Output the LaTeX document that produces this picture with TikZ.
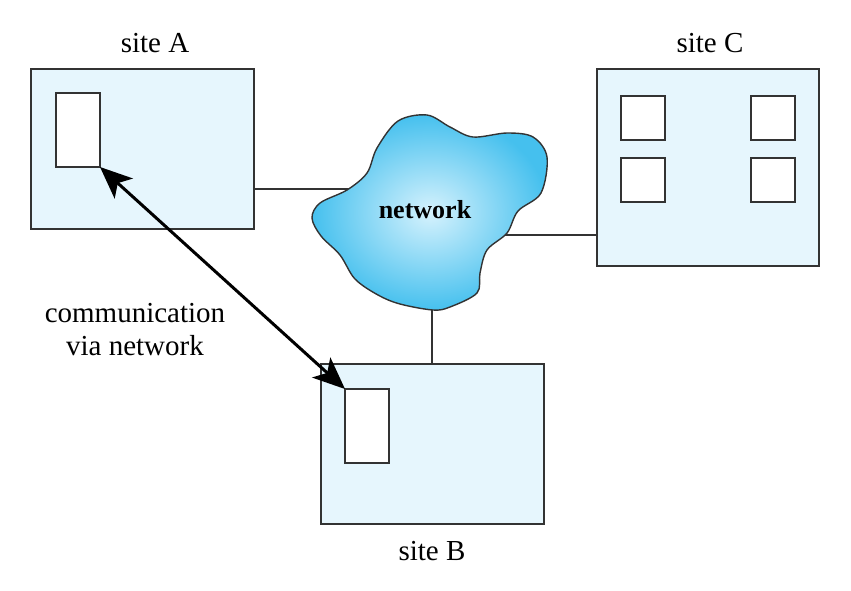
\documentclass[tikz,border=0pt]{standalone}
\usepackage{fontspec}
\setmainfont{Liberation Serif}
\usetikzlibrary{arrows.meta}
\definecolor{sitefill}{HTML}{E6F6FD}
\definecolor{linegray}{HTML}{333333}
\definecolor{cloudin}{HTML}{D6F2FD}
\definecolor{cloudout}{HTML}{45C0EE}
\tikzset{
  sitebox/.style={draw=linegray, line width=1.4pt, fill=sitefill},
  procbox/.style={draw=linegray, line width=1.4pt, fill=white},
  link/.style={draw=linegray, line width=1.4pt},
  lbl/.style={font=\fontsize{29}{33}\selectfont, inner sep=0pt},
  comm/.style={line width=3pt, black, {Stealth[length=32pt,width=27pt,inset=8pt]}-{Stealth[length=32pt,width=27pt,inset=8pt]}}
}
\begin{document}
\begin{tikzpicture}[x=1pt,y=-1pt]
\useasboundingbox (0,0) rectangle (851,590);
% sites
\draw[sitebox] (31,69) rectangle (254,229);
\coordinate (Aright) at (254,189);
\draw[procbox] (56,93) rectangle (100,167);
\coordinate (pA) at (100,167);
\node[lbl] (labA) at (155,43) {site A};

\draw[sitebox] (597,69) rectangle (819,266);
\coordinate (Cleft) at (597,235);
\draw[procbox] (621,96) rectangle (665,140);
\draw[procbox] (751,96) rectangle (795,140);
\draw[procbox] (621,158) rectangle (665,202);
\draw[procbox] (751,158) rectangle (795,202);
\node[lbl] (labC) at (710,43) {site C};

\draw[sitebox] (321,364) rectangle (544,524);
\coordinate (Btop) at (432,364);
\draw[procbox] (345,389) rectangle (389,463);
\coordinate (pB) at (345,389);
\node[lbl] (labB) at (432,551) {site B};

% connectors to cloud
\coordinate (cA) at (350,189);
\coordinate (cC) at (505,235);
\coordinate (cB) at (432,305);
\draw[link] (Aright) -- (cA);
\draw[link] (Cleft) -- (cC);
\draw[link] (Btop) -- (cB);

% cloud
\draw[draw=linegray, line width=1.4pt, shading=radial, inner color=cloudin, outer color=cloudout]
 plot[smooth cycle, tension=0.55] coordinates {
 (398,121) (427,115) (450,127) (473,137) (507,133) (533,137) (547,157)
 (541,193) (518,211) (507,233) (487,250) (480,273) (477,293) (450,307)
 (433,310) (400,304) (378,295) (355,279) (340,255) (321,236) (312,218)
 (320,203) (347,190) (367,173) (377,148)};
\node[font=\fontsize{26}{30}\selectfont\bfseries, inner sep=0pt] (net) at (425,210) {network};

% communication arrow
\draw[comm] (pA) -- (pB);
\node[lbl, align=center] (commlbl) at (135,330) {communication\\via network};
\end{tikzpicture}
\end{document}
